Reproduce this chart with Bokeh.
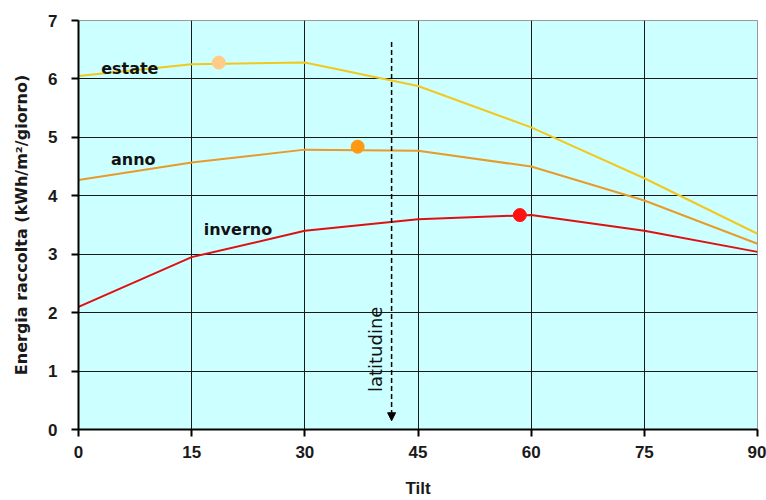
from bokeh.plotting import figure
from bokeh.embed import file_html
from bokeh.resources import INLINE
from bokeh.models import Arrow, NormalHead, Label, FixedTicker

tilt = [0, 15, 30, 45, 60, 75, 90]
estate = [6.05, 6.25, 6.28, 5.88, 5.17, 4.3, 3.35]
anno = [4.27, 4.57, 4.79, 4.77, 4.5, 3.92, 3.18]
inverno = [2.1, 2.95, 3.4, 3.6, 3.67, 3.4, 3.04]

max_x = [18.6, 37.0, 58.5]
max_y = [6.28, 4.84, 3.67]

series_labels = ["estate", "anno", "inverno"]
label_x = [3.0, 4.3, 16.6]
label_y = [6.18, 4.62, 3.43]

latitude = 41.5
x_ticks = [0, 15, 30, 45, 60, 75, 90]
y_ticks = [0, 1, 2, 3, 4, 5, 6, 7]

FONT = "Liberation Sans"
LFONT = "DejaVu Sans"

p = figure(width=766, height=500, output_backend="svg", toolbar_location=None,
           x_range=(0, 90), y_range=(0, 7), min_border_left=78, min_border_right=9,
           min_border_top=20, min_border_bottom=62)
p.background_fill_color = "#CCFFFF"
p.border_fill_color = "white"
p.outline_line_color = "#999999"

p.xaxis.ticker = FixedTicker(ticks=x_ticks)
p.yaxis.ticker = FixedTicker(ticks=y_ticks)
p.xgrid.ticker = FixedTicker(ticks=x_ticks)
p.ygrid.ticker = FixedTicker(ticks=y_ticks)
for g in (p.xgrid, p.ygrid):
    g.grid_line_color = "#1a1a1a"
    g.grid_line_width = 1
    g.grid_line_alpha = 1

for ax in (p.xaxis, p.yaxis):
    ax.axis_line_color = "black"
    ax.axis_line_width = 2
    ax.major_tick_line_color = "black"
    ax.major_tick_line_width = 2
    ax.major_tick_out = 7
    ax.major_tick_in = 0
    ax.minor_tick_line_color = None
    ax.major_label_text_font = FONT
    ax.major_label_text_font_style = "bold"
    ax.major_label_text_font_size = "17px"
    ax.major_label_text_color = "#1a1a1a"
    ax.axis_label_text_font_style = "bold"
    ax.axis_label_text_color = "#1a1a1a"

p.xaxis.axis_label = "Tilt"
p.xaxis.axis_label_text_font = FONT
p.xaxis.axis_label_text_font_size = "17px"
p.xaxis.axis_label_standoff = 18
p.xaxis.major_label_standoff = 9
p.yaxis.axis_label = "Energia raccolta (kWh/m²/giorno)"
p.yaxis.axis_label_text_font = LFONT
p.yaxis.axis_label_text_font_size = "16px"
p.yaxis.axis_label_standoff = 14
p.yaxis.major_label_standoff = 14

p.line(tilt, estate, line_color="#F2C81E", line_width=2)
p.line(tilt, anno, line_color="#E89A2A", line_width=2)
p.line(tilt, inverno, line_color="#DD1111", line_width=2)

p.scatter([max_x[0]], [max_y[0]], size=13, color="#FFCC88")
p.scatter([max_x[1]], [max_y[1]], size=13, color="#FF9911")
p.scatter([max_x[2]], [max_y[2]], size=13, color="#FF1111")

for t, lx, ly in zip(series_labels, label_x, label_y):
    p.add_layout(Label(x=lx, y=ly, text=t, text_font=LFONT, text_font_size="16px",
                       text_font_style="bold", text_color="#111111",
                       text_baseline="alphabetic"))

p.add_layout(Arrow(end=NormalHead(size=8, fill_color="black", line_color="black"),
                   x_start=latitude, y_start=6.63, x_end=latitude, y_end=0.15,
                   line_dash="5 3", line_width=1.5, line_color="black"))
p.add_layout(Label(x=latitude, y=0.64, text="latitudine", angle=90, angle_units="deg",
                   text_font=LFONT, text_font_size="18px", text_color="#111111",
                   text_baseline="alphabetic", x_offset=-16))

open("out.html", "w").write(file_html(p, INLINE))
